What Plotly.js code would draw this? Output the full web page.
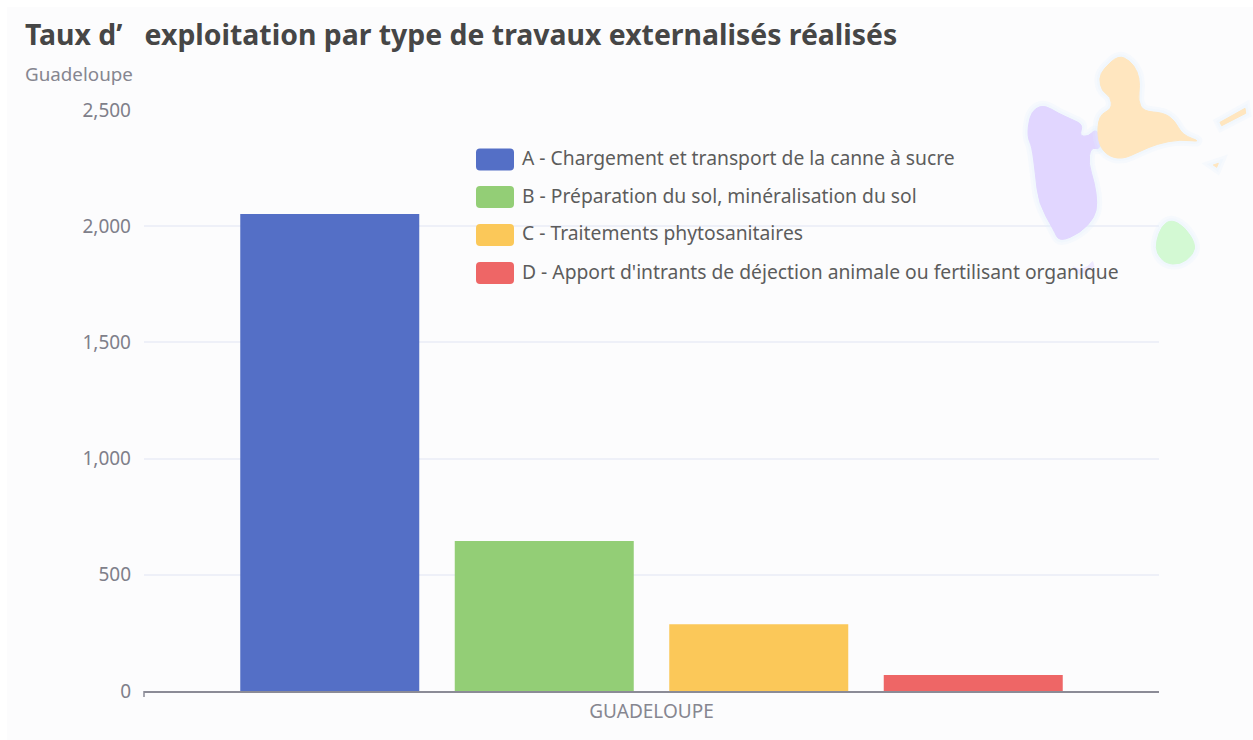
<!DOCTYPE html>
<html><head><meta charset="utf-8">
<script src="https://cdn.plot.ly/plotly-3.0.1.min.js"></script>
<style>html,body{margin:0;padding:0;background:#fff}#c{width:1253px;height:740px}</style></head>
<body><div id="c"></div>
<script>
const category = ["GUADELOUPE"];
const names = ["A - Chargement et transport de la canne \u00e0 sucre","B - Pr\u00e9paration du sol, min\u00e9ralisation du sol","C - Traitements phytosanitaires","D - Apport d'intrants de d\u00e9jection animale ou fertilisant organique"];
const values = [2052, 645, 287, 69];
const colors = ["#546fc6","#93ce76","#fbc859","#ee6666"];
const yTicks = [0,500,1000,1500,2000,2500];
const titleText = "Taux d\u2019\u00a0\u00a0\u00a0exploitation par type de travaux externalis\u00e9s r\u00e9alis\u00e9s";
const subtitleText = "Guadeloupe";

const W=1253,H=740,L=144,T=110,R=1159,B=691;
const px=function(x){return (x-L)/(R-L);};
const py=function(y){return (B-y)/(B-T);};
const zx=function(v){return px(1000+v/3);};
const zy=function(v){return py(40+v/3);};
const zoomPath=function(pts){
 if(pts.length<7){return "M"+pts.map(function(p){return zx(p[0])+","+zy(p[1]);}).join("L")+"Z";}
 const n=pts.length;
 const mid=function(a,b){return zx((a[0]+b[0])/2)+","+zy((a[1]+b[1])/2);};
 var s="M"+mid(pts[n-1],pts[0]);
 pts.forEach(function(p,i){s+="Q"+zx(p[0])+","+zy(p[1])+" "+mid(p,pts[(i+1)%n]);});
 return s+"Z";
};
const islands=[
 {c:"#e1d6ff",glow:true,p:[[135,196],[175,220],[215,238],[249,254],[238,287],[265,290],[285,268],[301,286],[301,329],[272,322],[265,370],[284,430],[292,490],[284,532],[242,578],[178,606],[161,570],[116,490],[106,400],[96,320],[82,290],[88,232],[106,204]]},
 {c:"#ffe6bf",glow:true,p:[[355,46],[390,62],[413,95],[420,135],[414,182],[430,214],[490,218],[524,241],[547,285],[606,306],[540,298],[470,312],[420,334],[365,359],[316,344],[292,300],[296,226],[336,207],[332,170],[306,154],[297,115],[311,86]]},
 {c:"#ffe6bf",glow:true,p:[[735,205],[737,220],[665,257],[660,247]]},
 {c:"#ffe6bf",glow:true,p:[[640,375],[655,370],[650,382]]},
 {c:"#d3f9d3",glow:true,p:[[515,539],[554,561],[586,610],[580,644],[540,674],[496,670],[470,640],[468,605],[486,556]]},
 {c:"#efeaff",glow:false,p:[[220,680],[240,690],[262,680],[278,665],[282,680],[240,705]]}
];
const shapes=[{type:"rect",xref:"paper",yref:"paper",x0:px(7),x1:px(1253),y0:py(7),y1:py(740),fillcolor:"#fcfcfd",line:{width:0},layer:"below"},
 {type:"line",xref:"paper",yref:"paper",x0:0,x1:0,y0:0,y1:py(697),line:{color:"#8b8b96",width:1.5},layer:"above"}];
islands.forEach(function(i){
 if(i.glow){[11,6].forEach(function(w){
  shapes.push({type:"path",xref:"paper",yref:"paper",path:zoomPath(i.p),fillcolor:"rgba(0,0,0,0)",line:{color:"rgba(226,238,255,0.2)",width:w},layer:"above"});
 });}
 shapes.push({type:"path",xref:"paper",yref:"paper",path:zoomPath(i.p),fillcolor:i.c,line:{color:i.c,width:1},layer:"above"});
});
const rows=[159.5,197,235,273], textRows=[158,195,232,271];
const annotations=[{xref:"paper",yref:"paper",x:px(22.5),y:py(74),xanchor:"left",yanchor:"middle",showarrow:false,text:subtitleText,font:{family:"Noto Sans",size:18.8,color:"#868690"}}];
names.forEach(function(n,i){
 const x0=476,x1=514,y0=rows[i]-11,y1=rows[i]+11,r=4;
 const P=function(x,y){return px(x)+","+py(y);};
 shapes.push({type:"path",xref:"paper",yref:"paper",layer:"above",fillcolor:colors[i],line:{width:0},
  path:"M"+P(x0+r,y0)+"L"+P(x1-r,y0)+"Q"+P(x1,y0)+" "+P(x1,y0+r)+"L"+P(x1,y1-r)+"Q"+P(x1,y1)+" "+P(x1-r,y1)+"L"+P(x0+r,y1)+"Q"+P(x0,y1)+" "+P(x0,y1-r)+"L"+P(x0,y0+r)+"Q"+P(x0,y0)+" "+P(x0+r,y0)+"Z"});
 annotations.push({xref:"paper",yref:"paper",x:px(519.5),y:py(textRows[i]),xanchor:"left",yanchor:"middle",showarrow:false,text:n,font:{family:"Noto Sans",size:19.3,color:"#5c5c5c"}});
});
const data=names.map(function(n,i){return {type:"bar",name:n,x:category,y:[values[i]],marker:{color:colors[i],line:{width:0}},hoverinfo:"name+y"};});
Plotly.newPlot("c",data,{
 width:W,height:H,showlegend:false,
 margin:{l:L,r:W-R,t:T,b:H-B,pad:0},
 paper_bgcolor:"#ffffff",plot_bgcolor:"rgba(0,0,0,0)",
 title:{text:titleText,x:25/W,xanchor:"left",y:1-35/H,yanchor:"middle",font:{family:"Noto Sans",size:28.4,weight:700,color:"#464646"}},
 barmode:"group",bargap:0.1547,bargroupgap:0.1655,
 xaxis:{type:"category",showgrid:false,zeroline:false,showline:true,linecolor:"#8b8b96",linewidth:1.5,ticks:"",tickfont:{family:"Noto Sans",size:19,color:"#868690"},automargin:false,ticklabelstandoff:2},
 yaxis:{range:[0,2500],tickvals:yTicks,ticktext:yTicks.map(function(v){return v.toLocaleString("en-US");}),showgrid:true,gridcolor:"#eef0f8",gridwidth:1.5,zeroline:false,showline:false,ticks:"",tickfont:{family:"Noto Sans",size:19,color:"#7f7f8a"},automargin:false,ticklabelstandoff:12},
 shapes:shapes,annotations:annotations
},{displayModeBar:false,responsive:false});
</script></body></html>
